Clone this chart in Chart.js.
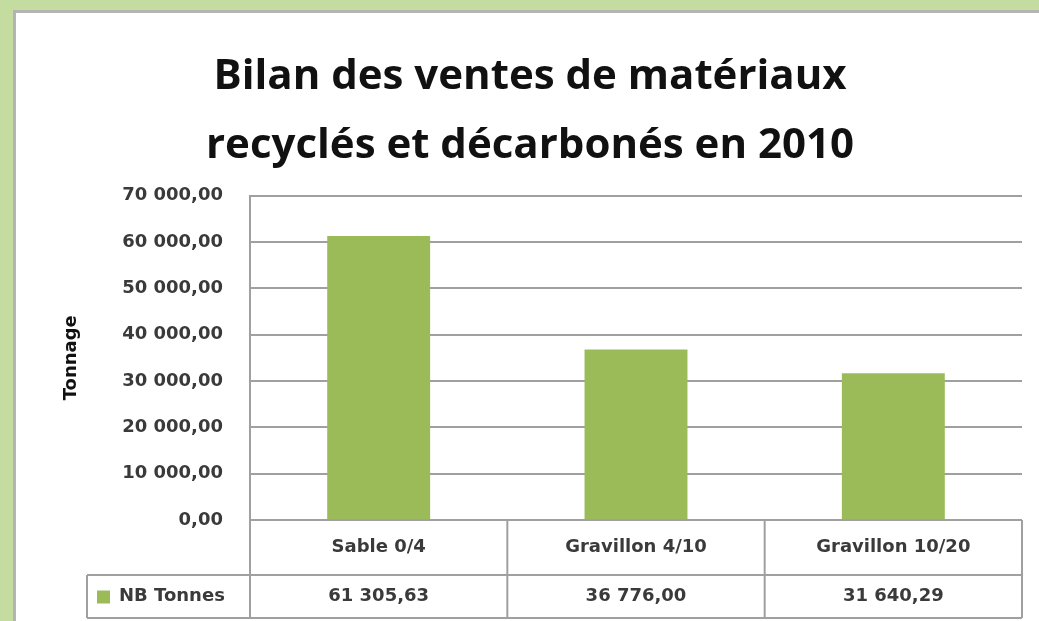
<!DOCTYPE html>
<html>
<head>
<meta charset="utf-8">
<script src="https://cdn.jsdelivr.net/npm/chart.js@4"></script>
<style>
  html, body { margin: 0; padding: 0; overflow: hidden; }
  body { width: 1039px; height: 621px; background: #c4dca0; position: relative; }
  #panel { position: absolute; left: 13px; top: 10px; width: 1060px; height: 640px;
           background: #fff; border: 3px solid #b4b4b4; box-sizing: border-box; }
  #wrap { position: absolute; left: 0; top: 0; width: 1070px; height: 621px; }
</style>
</head>
<body>
<div id="panel"></div>
<div id="wrap"><canvas id="chart" width="1070" height="621"></canvas></div>
<script>
// données
const categories = ["Sable 0/4", "Gravillon 4/10", "Gravillon 10/20"];
const tonnes = [61305.63, 36776.00, 31640.29];
const seriesName = "NB Tonnes";
const titleLines = ["Bilan des ventes de matériaux", "recyclés et décarbonés en 2010"];
const axisTitle = "Tonnage";
const yMax = 70000;
const yStep = 10000;

const green = "#9bbb59";
const lineGray = "#a0a0a0";
const textGray = "#3a3a3a";
const titleFont = "Open Sans";
const font = "DejaVu Sans";

// format français : 61 305,63
function formatFr(v) {
    const parts = v.toFixed(2).split(".");
    const ent = parts[0].replace(/\B(?=(\d{3})+(?!\d))/g, " ");
    return ent + "," + parts[1];
}

// tableau de données sous le graphique
const dataTable = {
    id: "dataTable",
    afterDraw(chart) {
        const ctx = chart.ctx;
        const area = chart.chartArea;
        const xs = chart.scales.x;
        const row1 = area.bottom + 55;
        const row2 = area.bottom + 98;
        const legendLeft = 87;

        ctx.save();
        ctx.strokeStyle = lineGray;
        ctx.lineWidth = 2;
        ctx.beginPath();
        // lignes verticales
        for (let i = 0; i <= categories.length; i++) {
            const x = i === 0 ? area.left : (i === categories.length ? area.right : xs.getPixelForValue(i - 0.5));
            ctx.moveTo(x, area.bottom);
            ctx.lineTo(x, row2);
        }
        ctx.moveTo(area.left, area.bottom);
        ctx.lineTo(area.right, area.bottom);
        ctx.moveTo(legendLeft, row1);
        ctx.lineTo(area.right, row1);
        ctx.moveTo(legendLeft, row2);
        ctx.lineTo(area.right, row2);
        ctx.moveTo(legendLeft, row1);
        ctx.lineTo(legendLeft, row2);
        ctx.stroke();

        ctx.fillStyle = textGray;
        ctx.font = "bold 18px " + font;
        ctx.textAlign = "center";
        ctx.textBaseline = "middle";
        categories.forEach((c, i) => {
            const x = xs.getPixelForValue(i);
            ctx.fillText(c, x, (area.bottom + row1) / 2);
            ctx.fillText(formatFr(tonnes[i]), x, (row1 + row2) / 2);
        });

        // légende
        ctx.fillStyle = green;
        ctx.fillRect(legendLeft + 10, (row1 + row2) / 2 - 6, 13, 13);
        ctx.fillStyle = textGray;
        ctx.textAlign = "left";
        ctx.font = "bold 18px " + font;
        ctx.fillText(seriesName, legendLeft + 32, (row1 + row2) / 2);
        ctx.restore();
    }
};

const chart = new Chart(document.getElementById("chart"), {
    type: "bar",
    data: {
        labels: categories,
        datasets: [{
            label: seriesName,
            data: tonnes,
            backgroundColor: green,
            categoryPercentage: 1,
            barPercentage: 0.4
        }]
    },
    options: {
        responsive: false,
        animation: false,
        layout: { padding: { left: 38, right: 48, top: 0, bottom: 101 } },
        plugins: {
            legend: { display: false },
            tooltip: { enabled: false },
            title: {
                display: true,
                text: titleLines,
                color: "#111",
                font: { family: titleFont, size: 42, weight: "bold", lineHeight: 1.65 },
                padding: { top: 42, bottom: 15 }
            }
        },
        scales: {
            x: { display: false },
            y: {
                min: 0,
                max: yMax,
                afterFit(scale) { scale.width = 212; },
                ticks: {
                    stepSize: yStep,
                    padding: 27,
                    color: textGray,
                    font: { family: font, size: 18, weight: "bold" },
                    callback: v => formatFr(v)
                },
                grid: { color: lineGray, lineWidth: 2, drawTicks: false },
                border: { display: true, color: lineGray, width: 2 },
                title: {
                    display: true,
                    text: axisTitle,
                    color: "#111",
                    font: { family: font, size: 18, weight: "bold" },
                    padding: { top: 23, bottom: 0 }
                }
            }
        }
    },
    plugins: [dataTable]
});
</script>
</body>
</html>
